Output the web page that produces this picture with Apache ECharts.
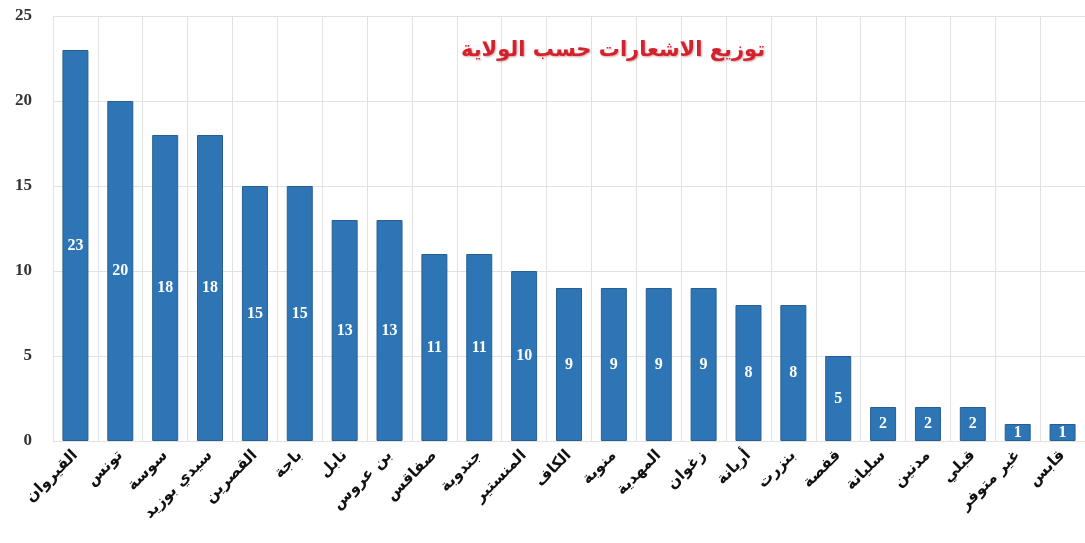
<!DOCTYPE html>
<html>
<head>
<meta charset="utf-8">
<script src="https://cdn.jsdelivr.net/npm/echarts@6/dist/echarts.min.js"></script>
<style>
html,body{margin:0;padding:0;background:#fff;}
#chart{width:1085px;height:543px;}
</style>
</head>
<body>
<div id="chart"></div>
<script>
const chartTitle = 'توزيع الاشعارات حسب الولاية';
const categories = ['القيروان','تونس','سوسة','سيدي بوزيد','القصرين','باجة','نابل','بن عروس','صفاقس','جندوبة','المنستير','الكاف','منوبة','المهدية','زغوان','أريانة','بنزرت','قفصة','سليانة','مدنين','قبلي','غير متوفر','قابس'];
const values = [23,20,18,18,15,15,13,13,11,11,10,9,9,9,9,8,8,5,2,2,2,1,1];
const yTicks = [0,5,10,15,20,25];

const chart = echarts.init(document.getElementById('chart'));
chart.setOption({
  backgroundColor: '#ffffff',
  animation: false,
  title: {
    text: chartTitle,
    left: 608, top: 35, textAlign: 'center',
    textStyle: {
      fontFamily: 'DejaVu Sans', fontWeight: 'bold', fontSize: 21, color: '#d3222e',
      textShadowColor: 'rgba(120,0,0,0.35)', textShadowBlur: 2, textShadowOffsetX: 1, textShadowOffsetY: 1
    }
  },
  grid: { left: 53, right: -7, top: 16, bottom: 102, containLabel: false },
  xAxis: {
    type: 'category',
    data: categories,
    axisLine: { show: false },
    axisTick: { show: false },
    splitLine: { show: true, lineStyle: { color: '#e2e2e2', width: 1 } },
    axisLabel: {
      interval: 0, rotate: 45, margin: 12,
      fontFamily: 'DejaVu Sans', fontWeight: 'bold', fontSize: 15.5, color: '#111'
    }
  },
  yAxis: {
    type: 'value', min: yTicks[0], max: yTicks[yTicks.length-1], interval: 5,
    axisLine: { show: false },
    axisTick: { show: false },
    splitLine: { show: true, lineStyle: { color: '#e2e2e2', width: 1 } },
    axisLabel: {
      margin: 21,
      fontFamily: 'Liberation Serif', fontWeight: 'bold', fontSize: 17, color: '#333'
    }
  },
  series: [{
    type: 'bar',
    data: values,
    barWidth: 26,
    itemStyle: { color: '#2e75b6', borderColor: '#285f93', borderWidth: 1 },
    label: {
      show: true, position: 'inside',
      fontFamily: 'Liberation Serif', fontWeight: 'bold', fontSize: 16, color: '#ffffff'
    }
  }]
});
</script>
</body>
</html>
